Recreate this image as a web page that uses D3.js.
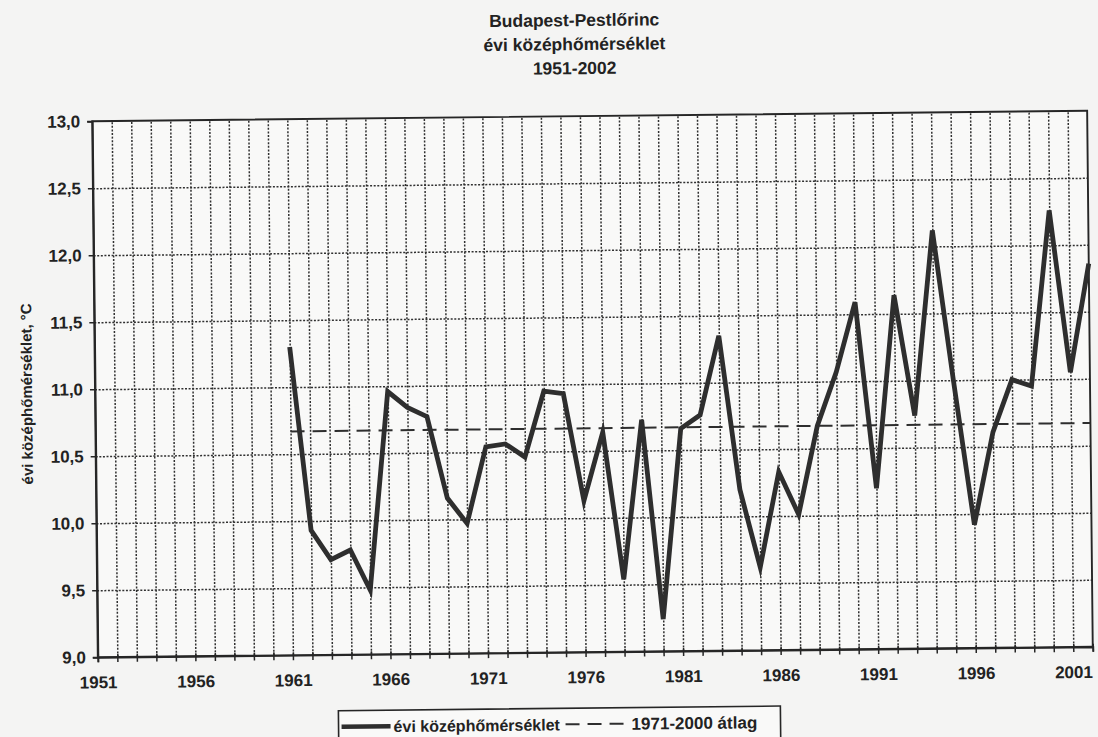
<!DOCTYPE html>
<html>
<head>
<meta charset="utf-8">
<script src="https://cdn.jsdelivr.net/npm/d3@7/dist/d3.min.js"></script>
<style>
  html, body { margin: 0; padding: 0; background: #f4f4f3; }
  svg { display: block; }
  text { font-family: "Liberation Sans", Arial, sans-serif; font-weight: bold; fill: #222; }
</style>
</head>
<body>
<script>
// Category axis: every year of the period
const years = d3.range(1951, 2003);
// Years that carry a label on the horizontal axis
const yearLabels = [1951, 1956, 1961, 1966, 1971, 1976, 1981, 1986, 1991, 1996, 2001];
// Annual mean temperature, Budapest-Pestlőrinc (°C)
const tempYears = [1961, 1962, 1963, 1964, 1965, 1966, 1967, 1968, 1969, 1970,
                   1971, 1972, 1973, 1974, 1975, 1976, 1977, 1978, 1979, 1980,
                   1981, 1982, 1983, 1984, 1985, 1986, 1987, 1988, 1989, 1990,
                   1991, 1992, 1993, 1994, 1995, 1996, 1997, 1998, 1999, 2000,
                   2001, 2002];
const tempValues = [11.30, 9.93, 9.71, 9.78, 9.48, 10.96, 10.84, 10.77, 10.16, 9.97,
                    10.54, 10.56, 10.46, 10.95, 10.93, 10.13, 10.64, 9.54, 10.73, 9.24,
                    10.66, 10.76, 11.35, 10.20, 9.62, 10.33, 10.01, 10.67, 11.07, 11.59,
                    10.20, 11.64, 10.74, 12.12, 11.00, 9.92, 10.61, 11.00, 10.95, 12.26,
                    11.05, 11.86];
// 1971-2000 mean, drawn across the observed years
const normalValue = 10.67;
const normalYears = [1961, 2002];
// Value axis ticks
const yTicks = [9.0, 9.5, 10.0, 10.5, 11.0, 11.5, 12.0, 12.5, 13.0];

const titleLines = ["Budapest-Pestlőrinc", "évi középhőmérséklet", "1951-2002"];
const yTitle = "évi középhőmérséklet, °C";
const legendSeries = "évi középhőmérséklet";
const legendNormal = "1971-2000 átlag";

const W = 1098, H = 737;
const L = 95, R = 1090, T = 116, B = 652;
const ink = "#262626";

const huFormat = d3.formatLocale({ decimal: ",", thousands: " ", grouping: [3], currency: ["", " Ft"] }).format(".1f");

const svg = d3.select("body").append("svg").attr("width", W).attr("height", H);
svg.append("rect").attr("width", W).attr("height", H).attr("fill", "#f4f4f3");

// whole sheet sits at a slight tilt
const g = svg.append("g").attr("transform", "rotate(-0.6, 594, 386)");

const x = d3.scalePoint().domain(years).range([L, R]).padding(0);
const y = d3.scaleLinear().domain([9, 13]).range([B, T]);

// plot area
g.append("rect").attr("x", L).attr("y", T).attr("width", R - L).attr("height", B - T).attr("fill", "#f9f9f8");

// horizontal dotted grid
const gy = g.append("g").attr("transform", `translate(${L},0)`)
  .call(d3.axisLeft(y).tickValues(yTicks.filter(v => v > 9 && v < 13)).tickSize(-(R - L)).tickFormat(""));
gy.select(".domain").remove();
gy.selectAll("line").attr("stroke", "#303030").attr("stroke-width", 1.5).attr("stroke-dasharray", "2,1.6");

// vertical dotted grid, one line per year
const gx = g.append("g").attr("transform", `translate(0,${B})`)
  .call(d3.axisBottom(x).tickValues(years.filter(v => v > 1951 && v < 2002)).tickSize(-(B - T)).tickFormat(""));
gx.select(".domain").remove();
gx.selectAll("line").attr("stroke", "#303030").attr("stroke-width", 1.5).attr("stroke-dasharray", "2,1.6");

// plot frame
g.append("rect").attr("x", L).attr("y", T).attr("width", R - L).attr("height", B - T)
  .attr("fill", "none").attr("stroke", ink).attr("stroke-width", 1.9);

const labelStyle = sel => sel.attr("font-size", 17)
  .style("font-family", "'Liberation Sans', Arial, sans-serif").style("font-weight", "bold").attr("fill", "#222");

// value axis
const ay = g.append("g").attr("transform", `translate(${L},0)`)
  .call(d3.axisLeft(y).tickValues(yTicks).tickSize(5).tickPadding(7).tickFormat(huFormat));
ay.select(".domain").attr("stroke", ink).attr("stroke-width", 1.9);
ay.selectAll("line").attr("stroke", ink).attr("stroke-width", 1.5);
ay.selectAll("text").call(labelStyle);

// category axis with crossing ticks
const ax = g.append("g").attr("transform", `translate(0,${B})`)
  .call(d3.axisBottom(x).tickValues(years).tickSize(5).tickPadding(14)
    .tickFormat(d => yearLabels.includes(d) ? String(d) : ""));
ax.select(".domain").attr("stroke", ink).attr("stroke-width", 1.9);
ax.selectAll(".tick line").attr("y1", -3).attr("y2", 5).attr("stroke", ink).attr("stroke-width", 1.5);
ax.selectAll("text").call(labelStyle);

// 1971-2000 mean
g.append("line")
  .attr("x1", x(normalYears[0])).attr("x2", x(normalYears[1]))
  .attr("y1", y(normalValue)).attr("y2", y(normalValue))
  .attr("stroke", "#2e2e2e").attr("stroke-width", 2).attr("stroke-dasharray", "14,8");

// annual series
const series = tempYears.map((yr, i) => ({ yr, v: tempValues[i] }));
g.append("path").datum(series)
  .attr("d", d3.line().x(d => x(d.yr)).y(d => y(d.v)))
  .attr("fill", "none").attr("stroke", "#2e2e2e").attr("stroke-width", 4.8)
  .attr("stroke-linejoin", "miter").attr("stroke-miterlimit", 5);

// title
g.append("g").selectAll("text").data(titleLines).join("text")
  .attr("x", 578).attr("y", (d, i) => 26 + i * 24)
  .attr("text-anchor", "middle").attr("font-size", 17.5).text(d => d);

// value-axis title
g.append("text")
  .attr("transform", `translate(32,${(T + B) / 2 + 4}) rotate(-90)`)
  .attr("text-anchor", "middle").attr("font-size", 15).text(yTitle);

// legend
const lg = g.append("g");
lg.append("rect").attr("x", 335).attr("y", 708).attr("width", 442).attr("height", 44)
  .attr("fill", "#f9f9f8").attr("stroke", ink).attr("stroke-width", 1.6);
lg.append("line").attr("x1", 338).attr("x2", 387).attr("y1", 724).attr("y2", 724)
  .attr("stroke", "#2e2e2e").attr("stroke-width", 4.5);
lg.append("text").attr("x", 390).attr("y", 730).attr("font-size", 16).text(legendSeries);
lg.append("line").attr("x1", 562).attr("x2", 624).attr("y1", 724).attr("y2", 724)
  .attr("stroke", "#2e2e2e").attr("stroke-width", 2).attr("stroke-dasharray", "14,8");
lg.append("text").attr("x", 628).attr("y", 730).attr("font-size", 17).text(legendNormal);
</script>
</body>
</html>
